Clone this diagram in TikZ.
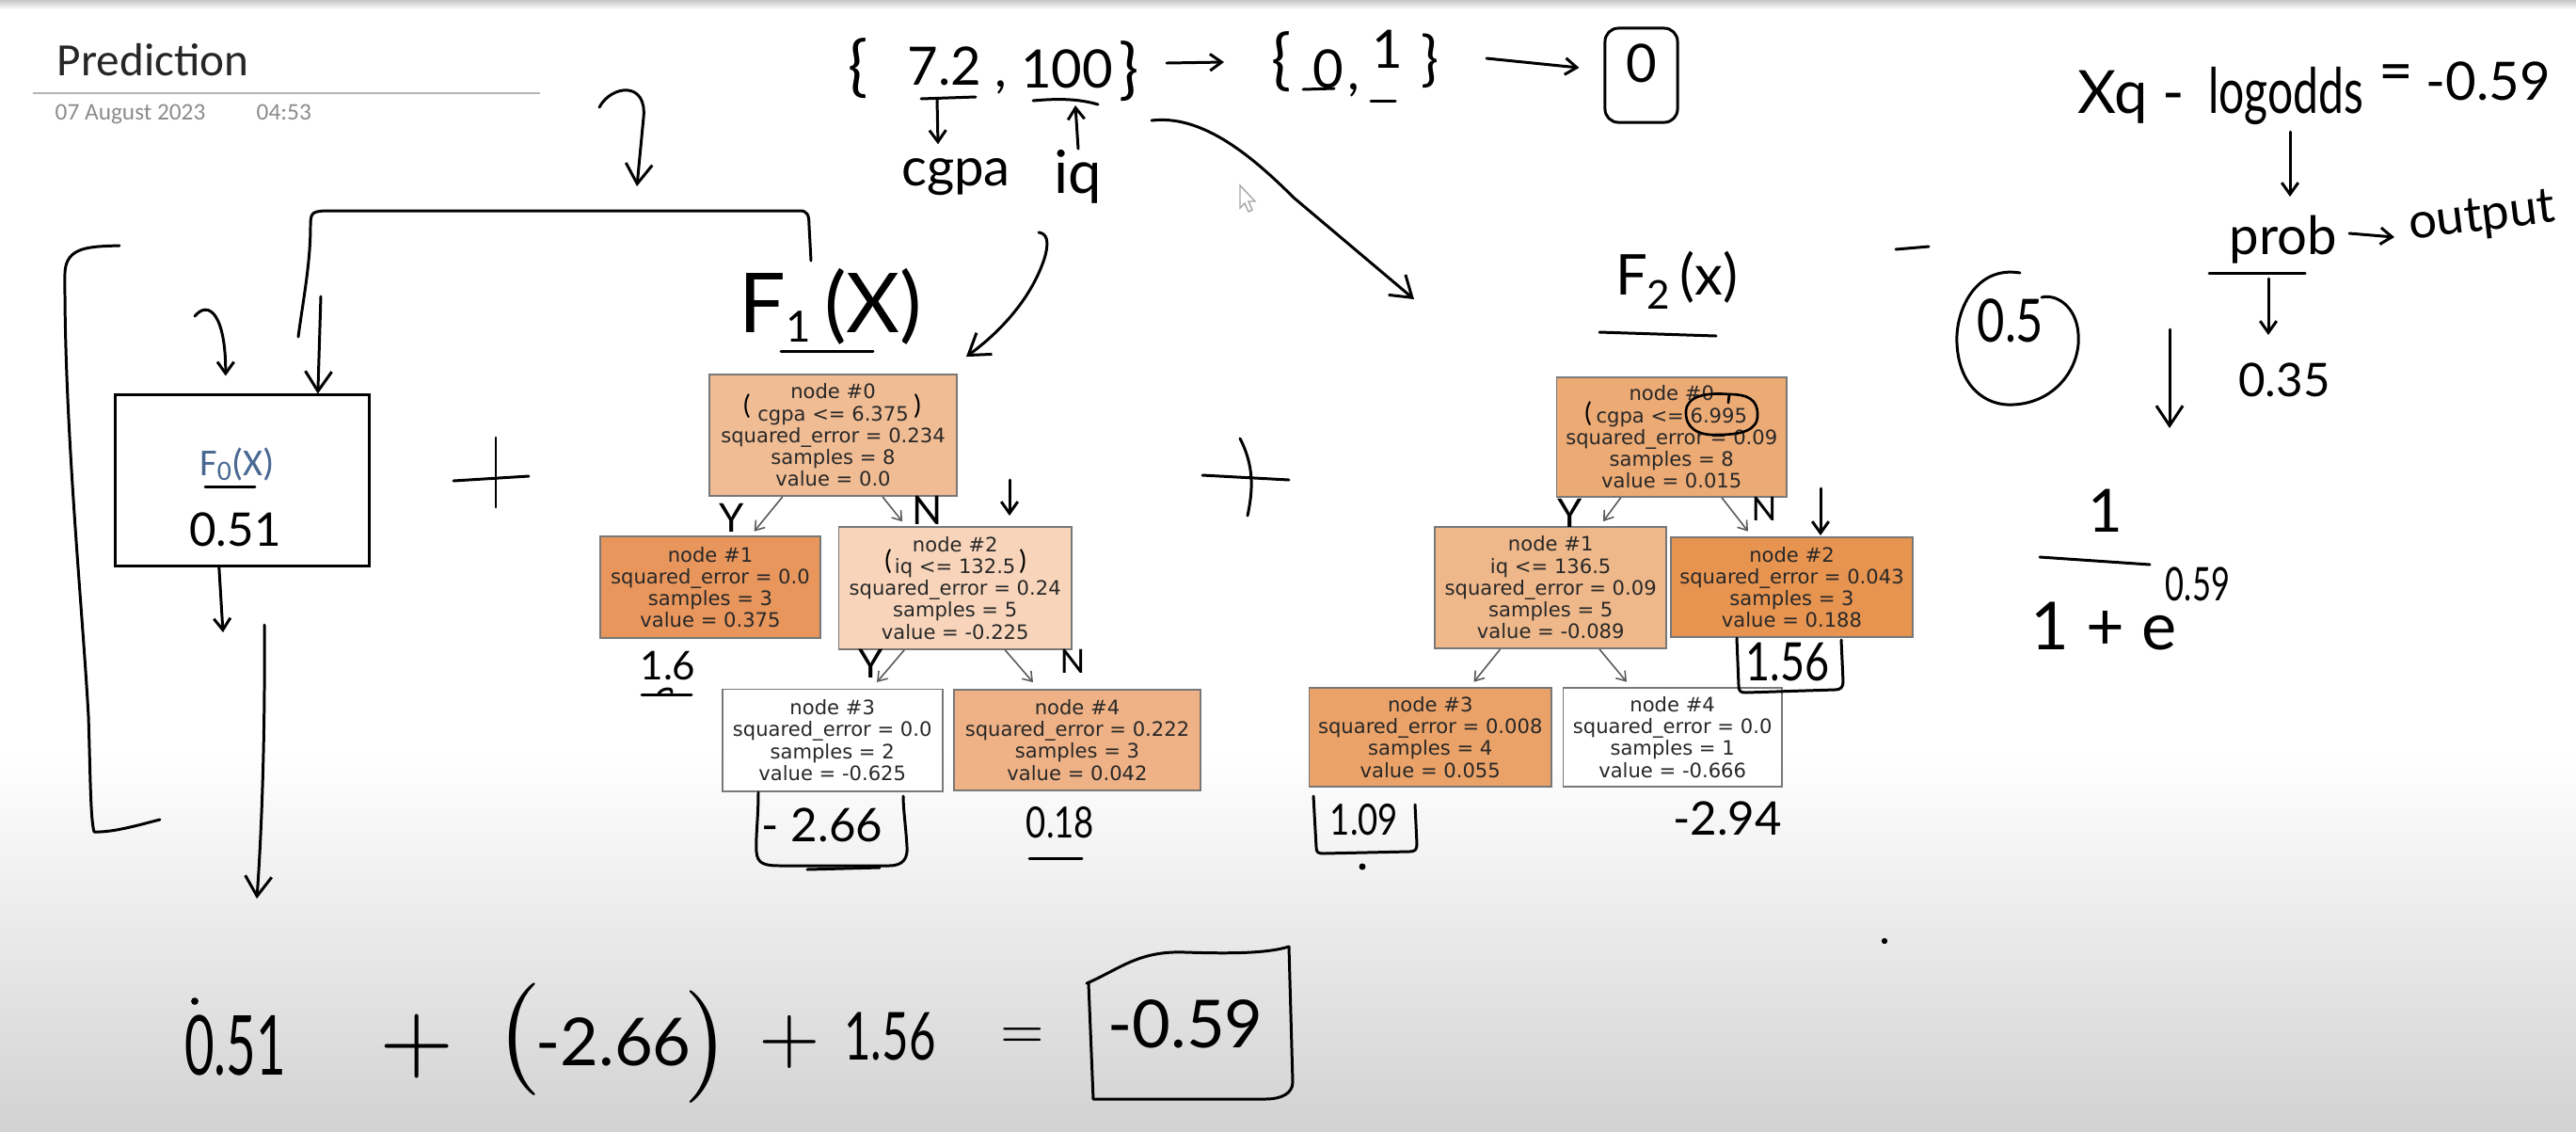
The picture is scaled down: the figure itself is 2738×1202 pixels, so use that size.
\documentclass[tikz,border=0pt]{standalone}
\usepackage{fontspec}
\setmainfont{Lato}
\newfontfamily\treefont{DejaVu Sans}
\newfontfamily\titlefont{Carlito}
\newfontfamily\lmfont{lmroman10-regular.otf}
\usetikzlibrary{arrows.meta}
\definecolor{tborder}{RGB}{120,120,120}
\definecolor{ttext}{RGB}{40,40,40}
\definecolor{tline}{RGB}{90,90,90}
\definecolor{fAzero}{RGB}{240,188,148}
\definecolor{fAone}{RGB}{232,150,92}
\definecolor{fAtwo}{RGB}{248,213,186}
\definecolor{fAfour}{RGB}{239,178,134}
\definecolor{fBzero}{RGB}{236,170,116}
\definecolor{fBone}{RGB}{239,184,138}
\definecolor{fBtwo}{RGB}{231,148,80}
\definecolor{fBthree}{RGB}{234,162,104}
\definecolor{fblue}{RGB}{72,104,146}
\definecolor{datecol}{RGB}{140,140,140}
\definecolor{rulecol}{RGB}{180,180,180}
\definecolor{bgbottom}{RGB}{210,210,210}
\newcommand\hwf[1]{\fontsize{#1}{#1}\selectfont}
\newcommand\hws[3]{\scalebox{#1}[1]{\fontsize{#2}{#2}\selectfont #3}}
\begin{document}
\begin{tikzpicture}[x=0.01cm,y=-0.01cm,
  hand/.style={line width=0.85pt,line cap=round,line join=round},
  harrow/.style={hand,-{Straight Barb[length=6pt,width=8pt]}},
  sarrow/.style={hand,-{Straight Barb[length=3.5pt,width=5pt]}},
  tbox/.style={draw=tborder,line width=0.5pt,inner sep=0pt,align=center,text=ttext,font={\treefont\fontsize{6}{6.6}\selectfont}},
  tarrow/.style={draw=tline,line width=0.45pt,-{Straight Barb[length=2.6pt,width=3.6pt]}},
  hw/.style={inner sep=0pt},
  lm/.style={inner sep=0pt,font={\lmfont\fontsize{#1}{#1}\selectfont}}]
% background
\fill[white] (0,0) rectangle (2738,1202);
\shade[top color=white,bottom color=bgbottom] (0,800) rectangle (2738,1202);
\shade[top color=gray!45,bottom color=white] (0,0) rectangle (2738,10);
\useasboundingbox (0,0) rectangle (2738,1202);
% title
\node[anchor=base west,inner sep=0pt,text=black!85,font={\titlefont\fontsize{14}{14}\selectfont}] (title) at (60,80) {Prediction};
\draw[rulecol,line width=0.7pt] (35,99) -- (574,99);
\node[anchor=base west,inner sep=0pt,text=datecol,font={\titlefont\fontsize{7.2}{7.2}\selectfont}] (date) at (58,127) {07 August 2023};
\node[anchor=base west,inner sep=0pt,text=datecol,font={\titlefont\fontsize{7.2}{7.2}\selectfont}] (time) at (272,127) {04:53};
% F0 box
\node[draw,line width=0.85pt,minimum width=2.70cm,minimum height=1.81cm,inner sep=0pt] (f0) at (257.8,510.5) {};
\node[inner sep=0pt,text=fblue,font={\titlefont\fontsize{11.5}{11.5}\selectfont}] (f0lab) at (252,493) {F\raisebox{-1.5pt}{\fontsize{8.5}{8.5}\selectfont 0}(X)};
\draw[hand] (218,517) -- (271,517);
\node[hw,anchor=base,font=\hwf{14}] (f0val) at (250,580) {0.51};
\coordinate (cA) at (207,336);
\draw[sarrow] (cA) .. controls (222,318) and (240,335) .. ([xshift=-0.18cm,yshift=0.19cm]f0.north);
\coordinate (vA) at (341,315);
\draw[harrow] (vA) -- ([xshift=0.80cm]f0.north);
\coordinate (dA) at (237,672);
\draw[sarrow] ([xshift=-0.25cm]f0.south) -- (dA);
\coordinate (dB1) at (281,664);
\coordinate (dB2) at (273,955);
\draw[harrow] (dB1) .. controls (282,800) and (277,900) .. (dB2);
% left bracket
\draw[hand] (127,261) .. controls (95,262) and (70,262) .. (69,290) .. controls (68,450) and (88,650) .. (94,761) .. controls (96,820) and (96,870) .. (100,884) .. controls (120,885) and (150,876) .. (170,871);
% top bracket line
\draw[hand] (317,358) .. controls (322,320) and (330,280) .. (330,240) .. controls (330,226) and (332,225) .. (345,224) -- (850,224) .. controls (858,224) and (860,228) .. (860,240) -- (862,277);
% top hook arrow
\coordinate (hk1) at (637,114);
\coordinate (hk2) at (677,198);
\draw[harrow] (hk1) .. controls (650,90) and (688,86) .. (684,125) -- (hk2);
% plus signs
\draw[hand] (482,511) -- (562,506);
\draw[hand] (527,465) -- (527,539);
\draw[hand] (1278,505) -- (1370,510);
\draw[hand] (1318,466) .. controls (1333,495) and (1332,520) .. (1326,548);
% top formula
\node[hw,font=\hwf{20}] (lb1) at (912,73) {\{};
\node[hw,anchor=base,font=\hwf{16}] (t72) at (1004,90) {7.2};
\node[hw,anchor=base,font=\hwf{16}] (cm1) at (1064,92) {,};
\node[hw,anchor=base,font=\hwf{16}] (t100) at (1134,93) {100};
\node[hw,font=\hwf{20}] (rb1) at (1200,76) {\}};
\draw[hand] (979,105) -- (1037,103);
\coordinate (u72) at (996,105);
\node[hw,anchor=base,font=\hwf{16}] (cgpa) at (1016,197) {cgpa};
\draw[sarrow] (u72) -- ([xshift=-0.19cm,yshift=4pt]cgpa.north);
\draw[hand] (1098,107) .. controls (1130,104) and (1150,106) .. (1167,111);
\coordinate (u100) at (1143,112);
\node[hw,anchor=base,font=\hwf{18}] (iq) at (1146,205) {iq};
\draw[sarrow] (iq.north) -- (u100);
\coordinate (ar1a) at (1240,67);
\coordinate (ar1b) at (1301,66);
\draw[sarrow] (ar1a) -- (ar1b);
\node[hw,font=\hwf{20}] (lb2) at (1362,66) {\{};
\node[hw,anchor=base,font=\hwf{16}] (z0) at (1412,93) {0};
\draw[hand] (1385,95) -- (1418,94);
\node[hw,anchor=base,font=\hwf{16}] (cm2) at (1439,95) {,};
\node[hw,anchor=base,font=\hwf{16}] (z1) at (1475,72) {1};
\draw[hand] (1457,107) -- (1483,107);
\node[hw,font=\hwf{18}] (rb2) at (1520,65) {\}};
\node[draw,hand,rounded corners=4pt,minimum width=0.77cm,minimum height=1.0cm,inner sep=0pt] (bx0) at (1744.5,80) {};
\node[hw,anchor=base,font=\hwf{16}] (z0b) at (1745,87) {0};
\coordinate (ar2a) at (1580,62);
\draw[sarrow] (ar2a) -- ([xshift=-0.26cm,yshift=0.08cm]bx0.west);
% arrow to F2
\coordinate (ar3a) at (1224,128);
\coordinate (ar3b) at (1503,318);
\draw[harrow] (ar3a) .. controls (1275,122) and (1325,160) .. (1375,210) -- (ar3b);
% cursor
\draw[gray!70,fill=white,line width=0.4pt] (1318,197) -- (1318,221) -- (1323,216) -- (1327,225) -- (1331,223) -- (1327,214) -- (1334,214) -- cycle;
% F1 label
\node[hw,anchor=base,font=\hwf{25}] (f1lab) at (883,353) {F\raisebox{-3pt}{\hwf{13}1}\,(X)};
\draw[hand] (830,373) -- (928,373);
% tree 1
\node[tbox,fill=fAzero,minimum width=2.63cm,minimum height=1.29cm] (a0) at (885.5,462.5) {node \#0\\cgpa <= 6.375\\squared\_error = 0.234\\samples = 8\\value = 0.0};
\node[tbox,fill=fAone,minimum width=2.34cm,minimum height=1.08cm] (a1) at (755,624) {node \#1\\squared\_error = 0.0\\samples = 3\\value = 0.375};
\node[tbox,fill=fAtwo,minimum width=2.475cm,minimum height=1.30cm] (a2) at (1015.2,624.8) {node \#2\\iq <= 132.5\\squared\_error = 0.24\\samples = 5\\value = -0.225};
\node[tbox,fill=white,minimum width=2.34cm,minimum height=1.08cm] (a3) at (884.7,786.6) {node \#3\\squared\_error = 0.0\\samples = 2\\value = -0.625};
\node[tbox,fill=fAfour,minimum width=2.62cm,minimum height=1.07cm] (a4) at (1145,786.5) {node \#4\\squared\_error = 0.222\\samples = 3\\value = 0.042};
\draw[tarrow] ([xshift=-0.537cm]a0.south) -- ([xshift=0.466cm,yshift=0.044cm]a1.north);
\draw[tarrow] ([xshift=0.525cm]a0.south) -- ([xshift=-0.56cm,yshift=0.046cm]a2.north);
\draw[tarrow] ([xshift=-0.54cm]a2.south) -- ([xshift=0.473cm,yshift=0.067cm]a3.north);
\draw[tarrow] ([xshift=0.53cm]a2.south) -- ([xshift=-0.47cm,yshift=0.07cm]a4.north);
% iq arrow to tree 1
\coordinate (ia) at (1104,247);
\draw[harrow] (ia) .. controls (1112,248) and (1116,255) .. (1110,275) .. controls (1095,320) and (1060,355) .. ([xshift=0.09cm,yshift=0.18cm]a0.north east);
% tree 1 annotations
\node[hw,font=\hwf{8}] (p1l) at (794,432) {(};
\node[hw,font=\hwf{8}] (p1r) at (975,432) {)};
\node[hw,font=\hwf{12}] (y1) at (778,550) {Y};
\node[hw,font=\hwf{12}] (n1) at (986,542) {N};
\coordinate (m1s) at (1073,510);
\coordinate (m1e) at (1073,548);
\draw[sarrow] (m1s) -- (m1e);
\node[hw,font=\hwf{8}] (p2l) at (944,597) {(};
\node[hw,font=\hwf{8}] (p2r) at (1087,597) {)};
\node[hw,font=\hwf{12}] (y2) at (926,705) {Y};
\node[hw,font=\hwf{10}] (n2) at (1140,703) {N};
\node[hw,anchor=base,font=\hwf{12}] (v16) at (710,722) {1.6};
\draw[hand] (682,738) -- (735,738);
\draw[hand] (700,737) .. controls (705,730) and (716,731) .. (714,736);
\draw[hand] (806,842) .. controls (806,870) and (803,890) .. (804,905) .. controls (805,918) and (812,920) .. (830,920) -- (945,920) .. controls (960,920) and (965,912) .. (964,900) .. controls (963,880) and (960,860) .. (960,846);
\draw[hand] (858,924) -- (935,922);
\node[hw,anchor=base,font=\hwf{14}] (v266) at (874,894) {- 2.66};
\node[hw,anchor=base] (v018) at (1127,890) {\hws{0.8}{13}{0.18}};
\draw[hand] (1094,912) -- (1150,912);
% F2 label
\node[hw,anchor=base,font=\hwf{17}] (f2lab) at (1782,313) {F\raisebox{-4.5pt}{\hwf{12}2}\,(x)};
\draw[hand] (1700,353) -- (1824,357);
% tree 2
\node[tbox,fill=fBzero,minimum width=2.445cm,minimum height=1.27cm] (b0) at (1776.75,464.35) {node \#0\\cgpa <= 6.995\\squared\_error = 0.09\\samples = 8\\value = 0.015};
\node[tbox,fill=fBone,minimum width=2.456cm,minimum height=1.29cm] (b1) at (1648.2,624.5) {node \#1\\iq <= 136.5\\squared\_error = 0.09\\samples = 5\\value = -0.089};
\node[tbox,fill=fBtwo,minimum width=2.57cm,minimum height=1.06cm] (b2) at (1904.5,624) {node \#2\\squared\_error = 0.043\\samples = 3\\value = 0.188};
\node[tbox,fill=fBthree,minimum width=2.575cm,minimum height=1.05cm] (b3) at (1520.25,783.5) {node \#3\\squared\_error = 0.008\\samples = 4\\value = 0.055};
\node[tbox,fill=white,minimum width=2.32cm,minimum height=1.05cm] (b4) at (1777.65,783.5) {node \#4\\squared\_error = 0.0\\samples = 1\\value = -0.666};
\draw[tarrow] ([xshift=-0.54cm]b0.south) -- ([xshift=0.558cm,yshift=0.05cm]b1.north);
\draw[tarrow] ([xshift=0.5325cm]b0.south) -- ([xshift=-0.465cm,yshift=0.054cm]b2.north);
\draw[tarrow] ([xshift=-0.536cm]b1.south) -- ([xshift=0.4625cm,yshift=0.054cm]b3.north);
\draw[tarrow] ([xshift=0.518cm]b1.south) -- ([xshift=-0.4865cm,yshift=0.054cm]b4.north);
% tree 2 annotations
\node[hw,font=\hwf{8}] (q1l) at (1688,440) {(};
\draw[hand,line width=0.75pt] (1837,428) -- (1838,419) .. controls (1815,417) and (1793,420) .. (1792,437) .. controls (1791,455) and (1805,463) .. (1825,462) .. controls (1850,462) and (1869,458) .. (1868,440) .. controls (1868,425) and (1858,419) .. (1838,419);
\node[hw,font=\hwf{12}] (y3) at (1669,545) {Y};
\node[hw,font=\hwf{10}] (n3) at (1875,541) {N};
\coordinate (m2s) at (1935,519);
\coordinate (m2e) at (1935,569);
\draw[sarrow] (m2s) -- (m2e);
\draw[hand] (1846,678) -- (1848,728) .. controls (1848,735) and (1850,736) .. (1856,736) -- (1950,733) .. controls (1957,733) and (1959,730) .. (1959,724) -- (1957,680);
\node[hw,anchor=base] (v156) at (1900,723) {\hws{0.8}{16}{1.56}};
\draw[hand] (1396,846) -- (1399,900) .. controls (1399,906) and (1401,907) .. (1407,907) -- (1498,905) .. controls (1504,905) and (1506,903) .. (1506,897) -- (1504,855);
\node[hw,anchor=base] (v109) at (1450,887) {\hws{0.8}{13}{1.09}};
\fill (1448,921) circle[radius=1pt];
\node[hw,anchor=base,font=\hwf{14}] (v294) at (1836,887) {-2.94};
\fill (2003,1000) circle[radius=0.9pt];
% right side
\node[hw,anchor=base,font=\hwf{18}] (xq) at (2246,120) {Xq};
\node[hw,anchor=base,font=\hwf{18}] (dash1) at (2310,120) {-};
\node[hw,anchor=base] (lo) at (2430,120) {\hws{0.72}{19}{logodds}};
\node[hw,font=\hwf{18}] (eq1) at (2547,83) {=};
\node[hw,anchor=base,font=\hwf{16}] (lov) at (2645,106) {-0.59};
\coordinate (lo1) at (2434,140);
\coordinate (lo2) at (2434,209);
\draw[sarrow] (lo1) -- (lo2);
\node[hw,anchor=base,font=\hwf{16}] (prob) at (2427,270) {prob};
\draw[hand] (2348,290) -- (2450,290);
\coordinate (pa) at (2497,248);
\coordinate (pb) at (2545,252);
\draw[sarrow] (pa) -- (pb);
\node[hw,rotate=7,font=\hwf{15}] (outp) at (2638,232) {output};
\coordinate (pc) at (2411,296);
\coordinate (pd) at (2411,356);
\draw[sarrow] (pc) -- (pd);
\node[hw,anchor=base,font=\hwf{14}] (p35) at (2428,421) {0.35};
\draw[hand] (2015,265) -- (2050,262);
\node[hw,anchor=base] (half) at (2137,363) {\hws{0.8}{18}{0.5}};
\draw[hand] (2147,290) .. controls (2100,282) and (2078,330) .. (2080,365) .. controls (2082,410) and (2110,432) .. (2140,430) .. controls (2185,428) and (2212,390) .. (2209,355) .. controls (2207,325) and (2185,312) .. (2170,316);
\coordinate (ba) at (2306,350);
\coordinate (bb) at (2306,455);
\draw[harrow] (ba) -- (bb);
\node[hw,anchor=base,font=\hwf{18}] (num) at (2238,565) {1};
\draw[hand] (2168,592) -- (2285,600);
\node[hw,anchor=base west,font=\hwf{20}] (den) at (2158,690) {1 + e};
\node[hw,anchor=base] (sup) at (2336,638) {\hws{0.7}{14}{0.59}};
% bottom equation
\node[hw,anchor=base] (e051) at (250,1142) {\hws{0.62}{25}{0.51}};
\fill (207,1064) circle[radius=1.1pt];
\node[lm=29] (eplus1) at (443,1112) {+};
\node[lm=34] (epl) at (553,1105) {(};
\node[hw,anchor=base,font=\hwf{20}] (e266) at (652,1132) {-2.66};
\node[lm=34] (epr) at (750,1113) {)};
\node[lm=24] (eplus2) at (839,1107) {+};
\node[hw,anchor=base] (e156) at (946,1126) {\hws{0.7}{20}{1.56}};
\node[lm=17] (eeq) at (1087,1104) {=};
\draw[hand] (1155,1045) .. controls (1190,1030) and (1210,1010) .. (1260,1012) .. controls (1320,1014) and (1350,1012) .. (1370,1006) -- (1374,1150) .. controls (1374,1162) and (1362,1168) .. (1345,1168) -- (1162,1168) -- (1157,1045);
\node[hw,anchor=base,font=\hwf{20}] (eres) at (1260,1113) {-0.59};
\end{tikzpicture}
\end{document}
